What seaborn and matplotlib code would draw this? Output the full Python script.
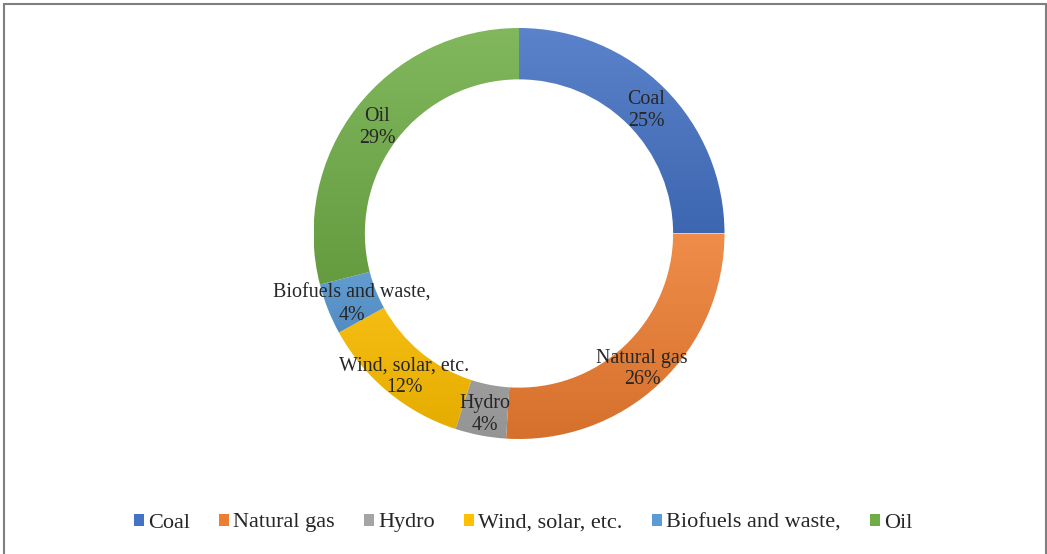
import numpy as np
import matplotlib
matplotlib.use("Agg")
import matplotlib.pyplot as plt
import seaborn as sns
from matplotlib.colors import to_rgb
from matplotlib.patches import Patch
from matplotlib.lines import Line2D

sns.set_theme(style="white")
plt.rcParams["font.family"] = ["Liberation Serif", "DejaVu Serif"]

# Energy mix shares (%)
categories = ["Coal", "Natural gas", "Hydro", "Wind, solar, etc.", "Biofuels and waste,", "Oil"]
shares = [25, 26, 4, 12, 4, 29]
colors = ["#4472C4", "#ED7D31", "#A5A5A5", "#FFC000", "#5B9BD5", "#70AD47"]

W, H = 1047, 554
fig = plt.figure(figsize=(W / 100, H / 100), dpi=100)
fig.patch.set_facecolor("white")

# Pie axes placed in pixel space: centre (519, 233.5), radius 205.5 px
cx, cy, R = 519, 233.5, 205.5
ax = fig.add_axes([(cx - R) / W, (H - cy - R) / H, 2 * R / W, 2 * R / H])
ax.set_xlim(-1, 1)
ax.set_ylim(-1, 1)
ax.set_aspect("equal")
ax.axis("off")

ring = 0.25
wedges, _ = ax.pie(shares, startangle=90, counterclock=False, radius=1.0,
                   colors=colors, wedgeprops=dict(width=ring, linewidth=0))


def shade(c, f):
    r = np.array(to_rgb(c))
    if f >= 0:
        return r + (1 - r) * f
    return r * (1 + f)


# Vertical gradient within each wedge: lighter at top, darker at bottom
for w, c in zip(wedges, colors):
    verts = w.get_path().vertices
    x0, x1 = verts[:, 0].min(), verts[:, 0].max()
    y0, y1 = verts[:, 1].min(), verts[:, 1].max()
    top = shade(c, 0.12)
    bot = shade(c, -0.10)
    t = np.linspace(0, 1, 256)[:, None]
    img = top[None, :] * (1 - t) + bot[None, :] * t
    img = np.repeat(img[:, None, :], 2, axis=1)
    w.set_facecolor("none")
    im = ax.imshow(img, extent=[x0, x1, y0, y1], origin="upper",
                   aspect="auto", zorder=1, interpolation="bilinear")
    im.set_clip_path(w)
ax.set_xlim(-1, 1)
ax.set_ylim(-1, 1)

# Category and percentage labels at the middle of the ring
total = sum(shares)
start = 90.0
label_r = 0.875
for name, v in zip(categories, shares):
    span = 360.0 * v / total
    mid = np.deg2rad(start - span / 2)
    start -= span
    ax.text(label_r * np.cos(mid), label_r * np.sin(mid) - 0.022, f"{name}\n{v}%",
            ha="center", va="center", fontsize=14.4, color="#262626",
            linespacing=1.2, zorder=3)

# Legend along the bottom
handles = [Patch(facecolor=c, edgecolor="none") for c in colors]
fig.legend(handles, categories, loc="center", ncol=6,
           bbox_to_anchor=(523 / W, 1 - 523 / H), frameon=False,
           fontsize=16, handlelength=0.45, handleheight=0.45,
           handletextpad=0.2, columnspacing=1.3, labelcolor="#262626")

# Outer frame
frame_col = "#7f7f7f"
fig.add_artist(Line2D([3.5 / W, 3.5 / W], [0, 1 - 3.5 / H], transform=fig.transFigure, color=frame_col, lw=1.5))
fig.add_artist(Line2D([3.5 / W, 1045.5 / W], [1 - 3.5 / H, 1 - 3.5 / H], transform=fig.transFigure, color=frame_col, lw=1.5))
fig.add_artist(Line2D([1045.5 / W, 1045.5 / W], [0, 1 - 3.5 / H], transform=fig.transFigure, color=frame_col, lw=1.5))

fig.savefig("out.png", dpi=100, facecolor="white")
